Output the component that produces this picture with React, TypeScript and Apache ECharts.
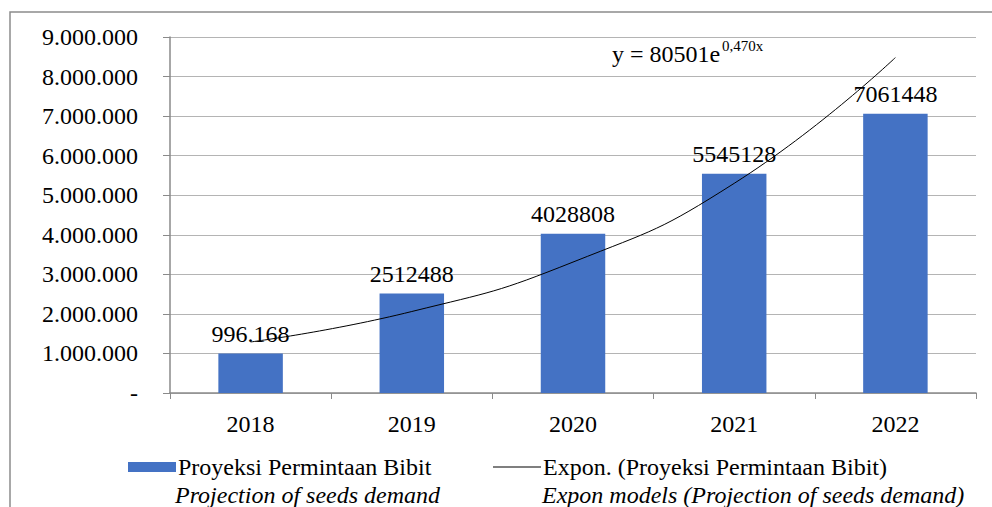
import React, { useEffect, useRef } from "react";
import * as echarts from "echarts";

const years = ["2018", "2019", "2020", "2021", "2022"];
const demand = [996168, 2512488, 4028808, 5545128, 7061448];
const demandLabels = ["996.168", "2512488", "4028808", "5545128", "7061448"];
const trend = [1290000, 2060000, 3310000, 5300000, 8480000];
const barName = "Proyeksi Permintaan Bibit";
const trendName = "Expon. (Proyeksi Permintaan Bibit)";
const barSub = "Projection of seeds demand";
const trendSub = "Expon models (Projection of seeds demand)";

const FONT = "serif";

function fmt(v: number): string {
  if (v === 0) return "-";
  return String(v).replace(/\B(?=(\d{3})+(?!\d))/g, ".");
}

export default function App() {
  const ref = useRef<HTMLDivElement>(null);
  useEffect(() => {
    if (!ref.current) return;
    const chart = echarts.init(ref.current, undefined, { renderer: "svg" });
    chart.setOption({
      animation: false,
      backgroundColor: "#ffffff",
      textStyle: { fontFamily: FONT },
      grid: { left: 170, right: 16, top: 37, bottom: 114, containLabel: false },
      xAxis: {
        type: "category",
        data: years,
        boundaryGap: true,
        axisLine: { lineStyle: { color: "#8a8a8a", width: 1.5 } },
        axisTick: { show: true, length: 6, lineStyle: { color: "#8a8a8a", width: 1 } },
        axisLabel: { color: "#000", fontSize: 24, fontFamily: FONT, margin: 19 },
      },
      yAxis: {
        type: "value",
        min: 0,
        max: 9000000,
        interval: 1000000,
        axisLine: { show: true, lineStyle: { color: "#8a8a8a", width: 1.5 } },
        axisTick: { show: true, length: 7, lineStyle: { color: "#8a8a8a" } },
        splitLine: { lineStyle: { color: "#b4b4b4", width: 1 } },
        axisLabel: { color: "#000", fontSize: 24, fontFamily: FONT, margin: 32, formatter: fmt },
      },
      legend: [
        {
          data: [{ name: barName, icon: "rect" }],
          left: 128,
          top: 455,
          padding: 0,
          itemWidth: 48,
          itemHeight: 10,
          textStyle: { color: "#000", fontSize: 24, fontFamily: FONT, padding: [0, 0, 0, -3] },
        },
        {
          data: [{ name: trendName, icon: "rect", itemStyle: { color: "#000" } }],
          left: 493,
          top: 455,
          padding: 0,
          itemWidth: 48,
          itemHeight: 1,
          textStyle: { color: "#000", fontSize: 24, fontFamily: FONT, padding: [0, 0, 0, -3] },
        },
      ],
      series: [
        {
          name: barName,
          type: "bar",
          data: demand,
          barWidth: "40%",
          itemStyle: { color: "#4472C4" },
          label: {
            show: true,
            position: "top",
            distance: 8,
            color: "#000",
            fontSize: 24,
            fontFamily: FONT,
            formatter: (p: any) => demandLabels[p.dataIndex],
          },
          z: 2,
        },
        {
          name: trendName,
          type: "line",
          data: trend,
          smooth: true,
          symbol: "none",
          lineStyle: { color: "#000", width: 1 },
          itemStyle: { color: "#000" },
          z: 5,
        },
      ],
      graphic: [
        {
          type: "rect",
          shape: { x: 10, y: 12, width: 1000, height: 600 },
          style: { fill: "none", stroke: "#8c8c8c", lineWidth: 1.5 },
          silent: true,
        },
        {
          type: "text",
          left: 612,
          top: 42,
          style: { text: "y = 80501e", fontSize: 24, fontFamily: FONT, fill: "#000" },
        },
        {
          type: "text",
          left: 722,
          top: 38,
          style: { text: "0,470x", fontSize: 15, fontFamily: FONT, fill: "#000" },
        },
        {
          type: "text",
          left: 175,
          top: 483,
          style: { text: barSub, fontSize: 24, fontStyle: "italic", fontFamily: FONT, fill: "#000" },
        },
        {
          type: "text",
          left: 542,
          top: 483,
          style: { text: trendSub, fontSize: 24, fontStyle: "italic", fontFamily: FONT, fill: "#000" },
        },
      ],
    });
    return () => chart.dispose();
  }, []);
  return (
    <div
      ref={ref}
      style={{ position: "absolute", left: 0, top: 0, width: 992, height: 507 }}
    />
  );
}
